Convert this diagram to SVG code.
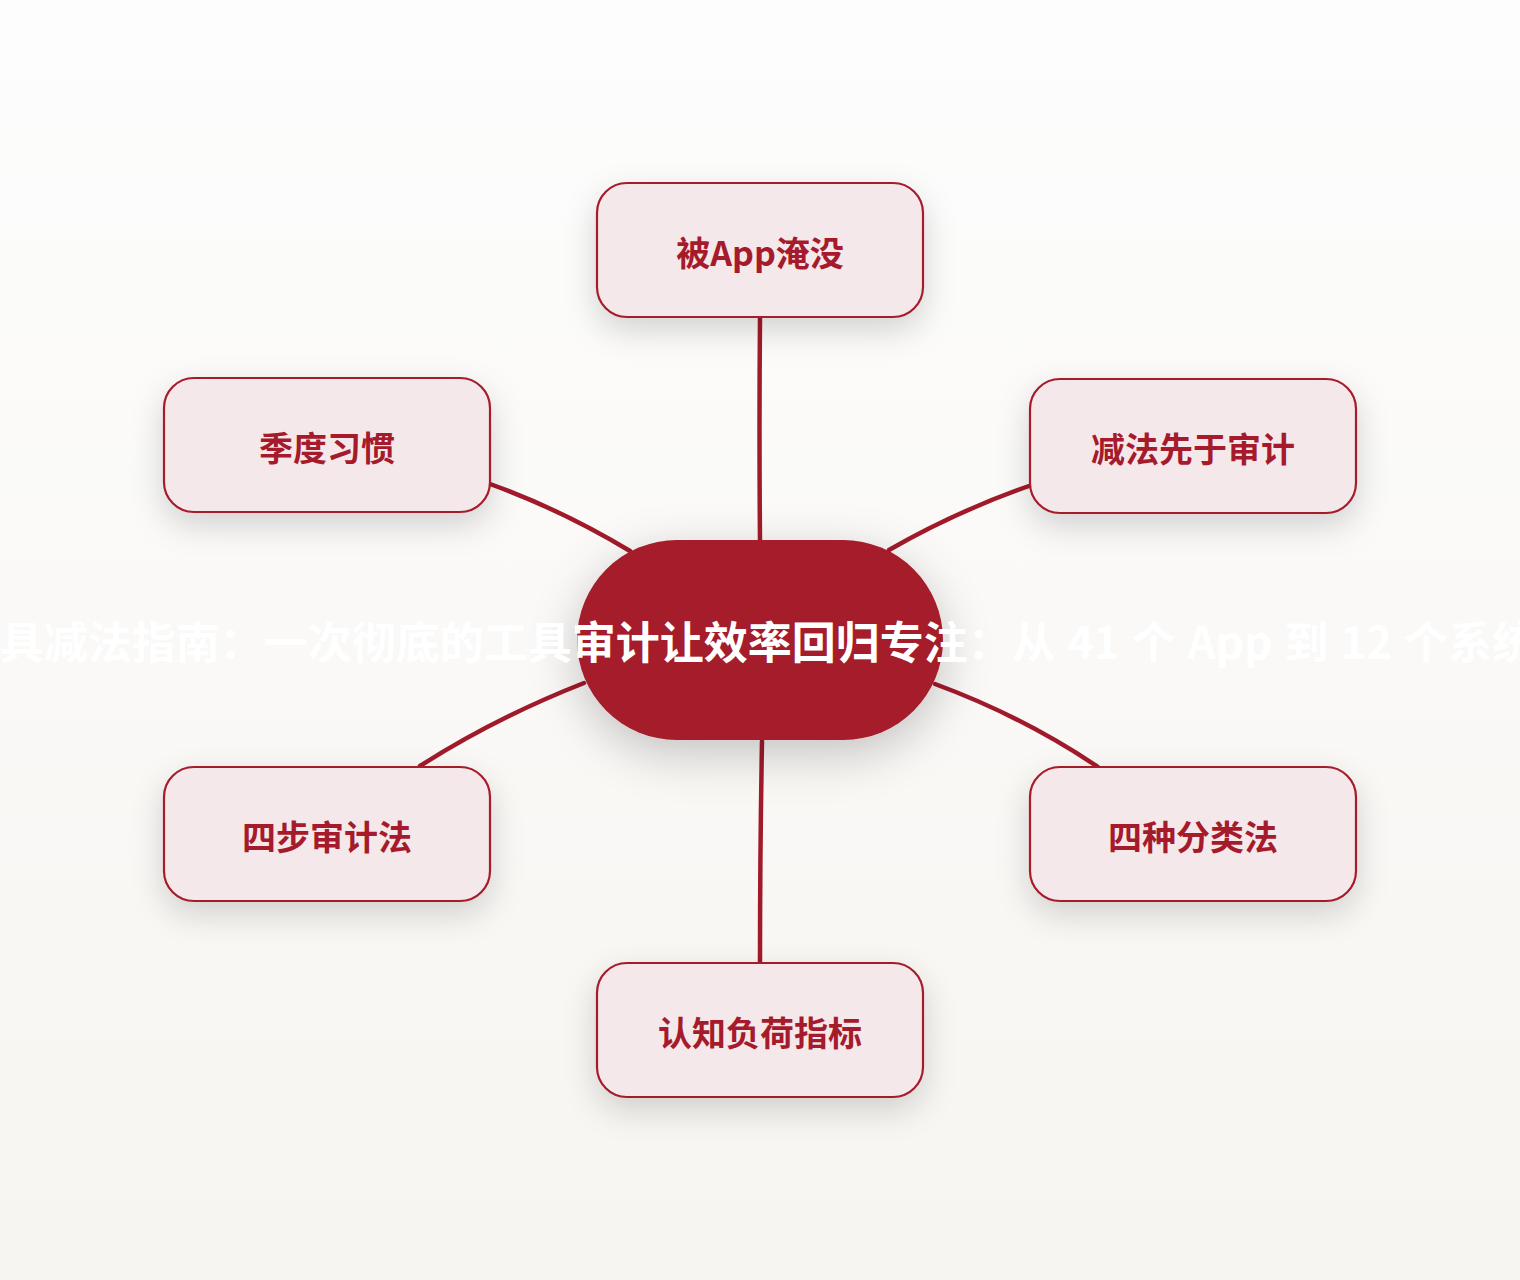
<svg xmlns="http://www.w3.org/2000/svg" width="1520" height="1280" viewBox="0 0 1520 1280">
  <defs>
    <linearGradient id="bg" x1="0" y1="0" x2="0" y2="1">
      <stop offset="0" stop-color="#FDFDFD"/>
      <stop offset="1" stop-color="#F7F5F1"/>
    </linearGradient>
    <filter id="shadow" x="-30%" y="-40%" width="160%" height="200%">
      <feDropShadow dx="0" dy="12" stdDeviation="16" flood-color="#000000" flood-opacity="0.16"/>
    </filter>
    <filter id="shadowC" x="-40%" y="-50%" width="180%" height="220%">
      <feDropShadow dx="0" dy="14" stdDeviation="24" flood-color="#000000" flood-opacity="0.22"/>
    </filter>
    <style>
      .node rect { fill: #F5E8EB; stroke: #A51B2B; stroke-width: 2.2; }
      .label { font-family: "Noto Sans CJK SC", "Noto Sans", sans-serif; font-weight: 700; font-size: 34px; fill: #A51B2B; text-anchor: middle; }
      .conn path { fill: none; stroke: #A11A2A; stroke-width: 4.5; stroke-linecap: round; }
      .center-label { font-family: "Noto Sans CJK SC", "Noto Sans", sans-serif; font-weight: 700; font-size: 44px; fill: #FFFFFF; text-anchor: middle; word-spacing: 2px; }
    </style>
  </defs>
  <rect x="0" y="0" width="1520" height="1280" fill="url(#bg)"/>

  <g id="connectors" class="conn">
    <path d="M760,317 Q759,430 760,540"/>
    <path d="M762,741 Q760,850 760,963"/>
    <path d="M490,484 Q562,510 630,551"/>
    <path d="M1029,486 Q955,512 889,550"/>
    <path d="M584,683 Q495,718 420,766"/>
    <path d="M935,684 Q1022,716 1098,767"/>
  </g>

  <g id="node-top" class="node" filter="url(#shadow)">
    <rect x="597" y="183" width="326" height="134" rx="30"/>
  </g>
  <g id="node-top-left" class="node" filter="url(#shadow)">
    <rect x="164" y="378" width="326" height="134" rx="30"/>
  </g>
  <g id="node-top-right" class="node" filter="url(#shadow)">
    <rect x="1030" y="379" width="326" height="134" rx="30"/>
  </g>
  <g id="node-bottom-left" class="node" filter="url(#shadow)">
    <rect x="164" y="767" width="326" height="134" rx="30"/>
  </g>
  <g id="node-bottom-right" class="node" filter="url(#shadow)">
    <rect x="1030" y="767" width="326" height="134" rx="30"/>
  </g>
  <g id="node-bottom" class="node" filter="url(#shadow)">
    <rect x="597" y="963" width="326" height="134" rx="30"/>
  </g>

  <g id="labels">
    <text class="label" x="760" y="266">被App淹没</text>
    <text class="label" x="327" y="461">季度习惯</text>
    <text class="label" x="1193" y="462">减法先于审计</text>
    <text class="label" x="327" y="850">四步审计法</text>
    <text class="label" x="1193" y="850">四种分类法</text>
    <text class="label" x="760" y="1046">认知负荷指标</text>
  </g>

  <g id="node-center">
    <rect x="577" y="540" width="366" height="200" rx="100" fill="#A51B2B" filter="url(#shadowC)"/>
    <text class="center-label" x="746" y="659">工具减法指南：一次彻底的工具审计让效率回归专注：从 41 个 App 到 12 个系统</text>
  </g>
</svg>
